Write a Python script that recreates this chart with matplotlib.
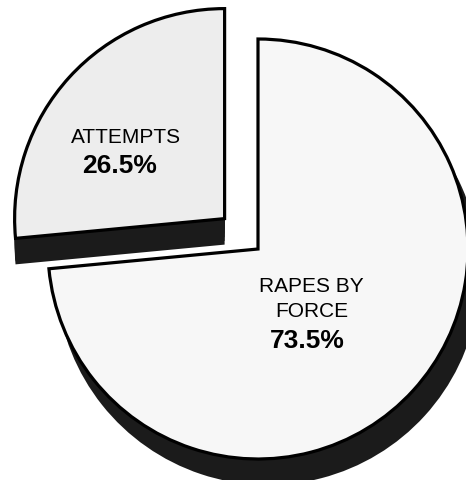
import matplotlib
matplotlib.use("Agg")
import matplotlib.pyplot as plt
import numpy as np

# ---- data ----
categories = ["RAPES BY\nFORCE", "ATTEMPTS"]
values = [73.5, 26.5]
explode = [0.0, 0.215]   # fraction of the radius
value_labels = [f"{v}%" for v in values]

W, H = 466, 481
fig = plt.figure(figsize=(W / 100, H / 100), dpi=100)
ax = fig.add_axes([0, 0, 1, 1])

cx, cy = 258, H - 250
R = 210

DARK = "#1b1b1b"
LIGHT_BIG = "#f7f7f7"
LIGHT_ATT = "#ededed"


def draw_pie(center, radius, colors, edge, lw, zorders, visible=(True, True)):
    wedges, _ = ax.pie(values, explode=[e * R for e in explode], startangle=90,
                       counterclock=False, center=center, radius=radius, colors=colors,
                       wedgeprops=dict(edgecolor=edge, linewidth=lw, joinstyle="miter"))
    for w, z, v in zip(wedges, zorders, visible):
        w.set_zorder(z)
        w.set_visible(v)
    return wedges


# depth of the exploded slice (straight down)
for t in np.linspace(0, 1, 8):
    draw_pie((cx, cy - 26 * t), R, [DARK, DARK], DARK, 0, [1, 1], visible=(False, True))

# depth of the big slice
draw_pie((cx + 10, cy - 24), 212, [DARK, DARK], DARK, 0, [3, 3], visible=(True, False))

# top faces
draw_pie((cx, cy), R, [LIGHT_BIG, LIGHT_ATT], "black", 2.3, [4, 2])

# labels
font = ["Liberation Sans", "DejaVu Sans"]
ax.text(126, H - 143, categories[1], ha="center", va="baseline", fontsize=15,
        family=font, zorder=6)
ax.text(119.5, H - 173, value_labels[1], ha="center", va="baseline", fontsize=19,
        fontweight="bold", family=font, zorder=6)
ax.text(311, H - 292, categories[0].split("\n")[0], ha="center", va="baseline",
        fontsize=15, family=font, zorder=6)
ax.text(312, H - 317, categories[0].split("\n")[1], ha="center", va="baseline",
        fontsize=15, family=font, zorder=6)
ax.text(307, H - 348, value_labels[0], ha="center", va="baseline", fontsize=19,
        fontweight="bold", family=font, zorder=6)

ax.set_xlim(0, W)
ax.set_ylim(0, H)
ax.set_aspect("equal")
ax.axis("off")

fig.savefig("out.png", dpi=100, facecolor="white")
